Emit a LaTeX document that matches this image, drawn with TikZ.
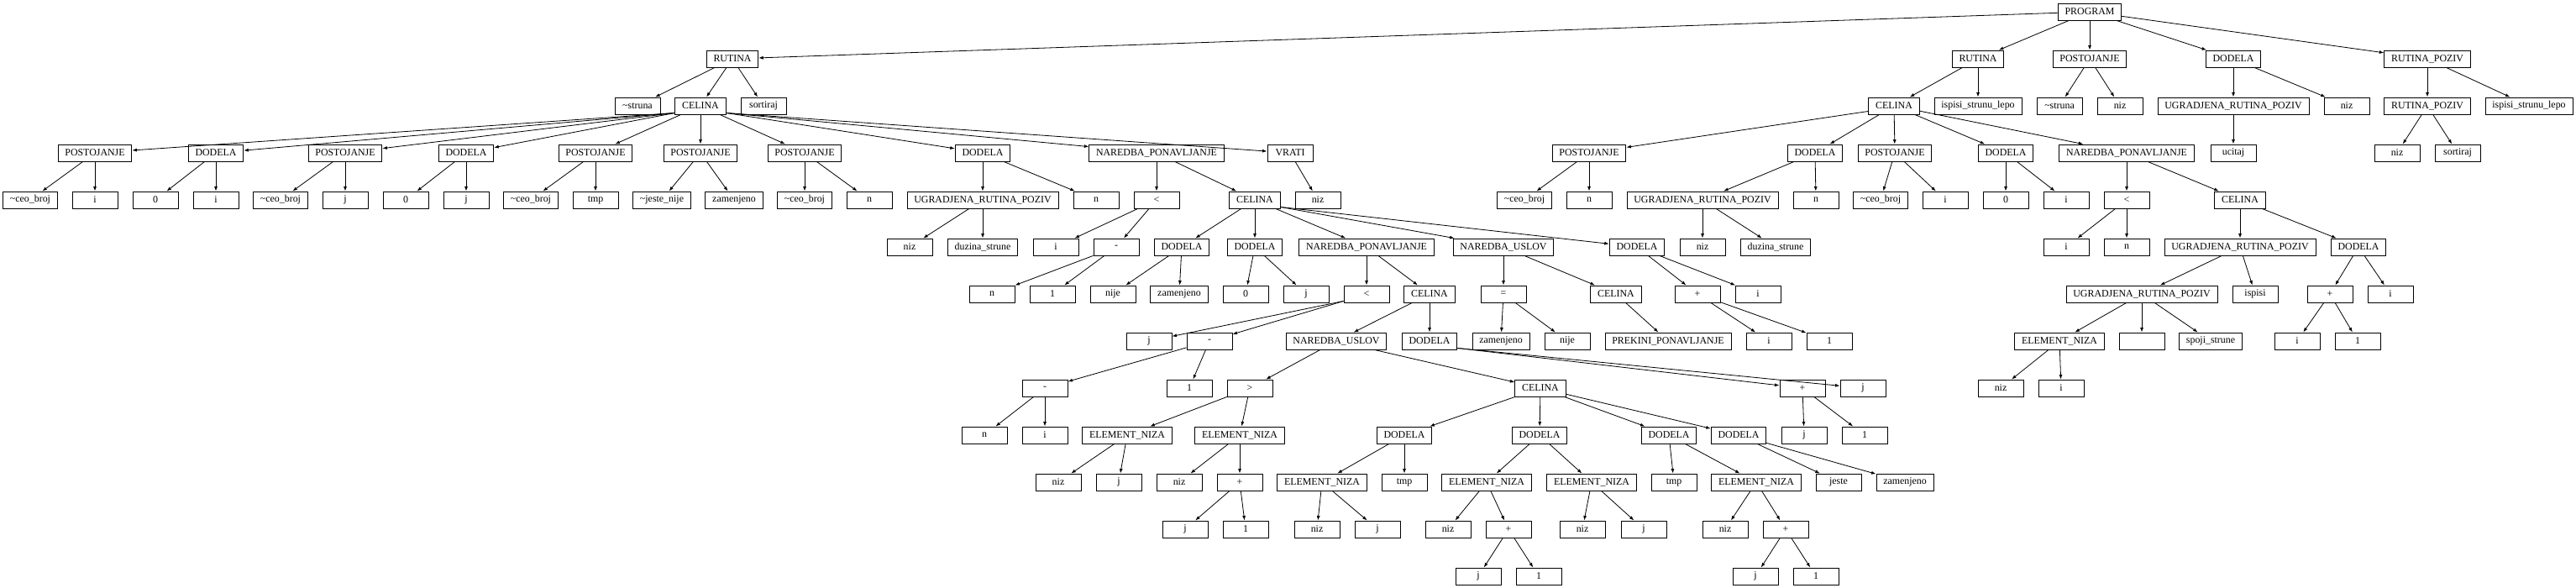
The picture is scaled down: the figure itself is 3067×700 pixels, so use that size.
\documentclass[tikz,border=0pt]{standalone}
\usepackage{fontspec}
\setmainfont{Liberation Serif}
\usepackage{tikz}
\usetikzlibrary{arrows.meta}

\begin{document}
\begin{tikzpicture}
[every node/.style={draw=black, line width=0.9pt, rectangle, minimum width=54pt, minimum height=20pt, inner xsep=8.3pt, inner ysep=0pt, font=\fontsize{11.9}{13}\selectfont},
 branch/.style={line width=0.8pt, ->, >={Latex[length=5.5pt,width=4pt]}, color=black}]
\useasboundingbox (0pt, 0pt) rectangle (3067pt, -700pt);
% level 0 and 1
\node (1) at (2488pt, -14pt) {PROGRAM};
\node (2) at (872pt, -70pt) {RUTINA};
\node (3) at (2355pt, -70pt) {RUTINA};
\node (4) at (2488pt, -70pt) {POSTOJANJE};
\node (5) at (2659pt, -70pt) {DODELA};
\node (6) at (2890pt, -70pt) {RUTINA\_POZIV};
% left routine
\node (7) at (759pt, -126pt) {\textasciitilde struna};
\node (8) at (834pt, -126pt) {CELINA};
\node (9) at (909pt, -126pt) {sortiraj};
\node (10) at (113pt, -182pt) {POSTOJANJE};
\node (11) at (257pt, -182pt) {DODELA};
\node (12) at (411pt, -182pt) {POSTOJANJE};
\node (13) at (555pt, -182pt) {DODELA};
\node (14) at (709pt, -182pt) {POSTOJANJE};
\node (15) at (834pt, -182pt) {POSTOJANJE};
\node (16) at (958pt, -182pt) {POSTOJANJE};
\node (17) at (1170pt, -182pt) {DODELA};
\node (18) at (1377pt, -182pt) {NAREDBA\_PONAVLJANJE};
\node (19) at (1536pt, -182pt) {VRATI};
\node (20) at (36pt, -238pt) {\textasciitilde ceo\_broj};
\node (21) at (113pt, -238pt) {i};
\node (22) at (185pt, -238pt) {0};
\node (23) at (257pt, -238pt) {i};
\node (24) at (334pt, -238pt) {\textasciitilde ceo\_broj};
\node (25) at (411pt, -238pt) {j};
\node (26) at (483pt, -238pt) {0};
\node (27) at (555pt, -238pt) {j};
\node (28) at (632pt, -238pt) {\textasciitilde ceo\_broj};
\node (29) at (709pt, -238pt) {tmp};
\node (30) at (788pt, -238pt) {\textasciitilde jeste\_nije};
\node (31) at (874pt, -238pt) {zamenjeno};
\node (32) at (958pt, -238pt) {\textasciitilde ceo\_broj};
\node (33) at (1035pt, -238pt) {n};
\node (34) at (1170pt, -238pt) {UGRADJENA\_RUTINA\_POZIV};
\node (35) at (1305pt, -238pt) {n};
\node (36) at (1377pt, -238pt) {\textless};
\node (37) at (1494pt, -238pt) {CELINA};
\node (38) at (1569pt, -238pt) {niz};
\node (39) at (1083pt, -294pt) {niz};
\node (40) at (1170pt, -294pt) {duzina\_strune};
\node (41) at (1257pt, -294pt) {i};
\node (42) at (1329pt, -294pt) {-};
\node (43) at (1407pt, -294pt) {DODELA};
\node (44) at (1494pt, -294pt) {DODELA};
\node (45) at (1627pt, -294pt) {NAREDBA\_PONAVLJANJE};
\node (46) at (1790pt, -294pt) {NAREDBA\_USLOV};
\node (47) at (1949pt, -294pt) {DODELA};
\node (48) at (1181pt, -350pt) {n};
\node (49) at (1253pt, -350pt) {1};
\node (50) at (1325pt, -350pt) {nije};
\node (51) at (1404pt, -350pt) {zamenjeno};
\node (52) at (1483pt, -350pt) {0};
\node (53) at (1555pt, -350pt) {j};
\node (54) at (1627pt, -350pt) {\textless};
\node (55) at (1702pt, -350pt) {CELINA};
\node (56) at (1790pt, -350pt) {=};
\node (57) at (1924pt, -350pt) {CELINA};
\node (58) at (2021pt, -350pt) {+};
\node (59) at (2093pt, -350pt) {i};
\node (60) at (1368pt, -406pt) {j};
\node (61) at (1440pt, -406pt) {-};
\node (62) at (1591pt, -406pt) {NAREDBA\_USLOV};
\node (63) at (1702pt, -406pt) {DODELA};
\node (64) at (1787pt, -406pt) {zamenjeno};
\node (65) at (1866pt, -406pt) {nije};
\node (66) at (1986pt, -406pt) {PREKINI\_PONAVLJANJE};
\node (67) at (2106pt, -406pt) {i};
\node (68) at (2178pt, -406pt) {1};
\node (69) at (1244pt, -462pt) {-};
\node (70) at (1416pt, -462pt) {1};
\node (71) at (1488pt, -462pt) {\textgreater};
\node (72) at (1834pt, -462pt) {CELINA};
\node (73) at (2146pt, -462pt) {+};
\node (74) at (2218pt, -462pt) {j};
\node (75) at (1172pt, -518pt) {n};
\node (76) at (1244pt, -518pt) {i};
\node (77) at (1342pt, -518pt) {ELEMENT\_NIZA};
\node (78) at (1476pt, -518pt) {ELEMENT\_NIZA};
\node (79) at (1672pt, -518pt) {DODELA};
\node (80) at (1833pt, -518pt) {DODELA};
\node (81) at (1987pt, -518pt) {DODELA};
\node (82) at (2070pt, -518pt) {DODELA};
\node (83) at (2148pt, -518pt) {j};
\node (84) at (2220pt, -518pt) {1};
\node (85) at (1260pt, -574pt) {niz};
\node (86) at (1332pt, -574pt) {j};
\node (87) at (1404pt, -574pt) {niz};
\node (88) at (1476pt, -574pt) {+};
\node (89) at (1574pt, -574pt) {ELEMENT\_NIZA};
\node (90) at (1672pt, -574pt) {tmp};
\node (91) at (1770pt, -574pt) {ELEMENT\_NIZA};
\node (92) at (1895pt, -574pt) {ELEMENT\_NIZA};
\node (93) at (1993pt, -574pt) {tmp};
\node (94) at (2091pt, -574pt) {ELEMENT\_NIZA};
\node (95) at (2189pt, -574pt) {jeste};
\node (96) at (2268pt, -574pt) {zamenjeno};
\node (97) at (1411pt, -630pt) {j};
\node (98) at (1483pt, -630pt) {1};
\node (99) at (1568pt, -630pt) {niz};
\node (100) at (1640pt, -630pt) {j};
\node (101) at (1724pt, -630pt) {niz};
\node (102) at (1796pt, -630pt) {+};
\node (103) at (1884pt, -630pt) {niz};
\node (104) at (1957pt, -630pt) {j};
\node (105) at (2054pt, -630pt) {niz};
\node (106) at (2126pt, -630pt) {+};
\node (107) at (1760pt, -686pt) {j};
\node (108) at (1832pt, -686pt) {1};
\node (109) at (2090pt, -686pt) {j};
\node (110) at (2162pt, -686pt) {1};
% right routine
\node (111) at (2255pt, -126pt) {CELINA};
\node (112) at (2355pt, -126pt) {ispisi\_strunu\_lepo};
\node (113) at (1892pt, -182pt) {POSTOJANJE};
\node (114) at (2161pt, -182pt) {DODELA};
\node (115) at (2256pt, -182pt) {POSTOJANJE};
\node (116) at (2388pt, -182pt) {DODELA};
\node (117) at (2532pt, -182pt) {NAREDBA\_PONAVLJANJE};
\node (118) at (1815pt, -238pt) {\textasciitilde ceo\_broj};
\node (119) at (1892pt, -238pt) {n};
\node (120) at (2027pt, -238pt) {UGRADJENA\_RUTINA\_POZIV};
\node (121) at (2162pt, -238pt) {n};
\node (122) at (2239pt, -238pt) {\textasciitilde ceo\_broj};
\node (123) at (2316pt, -238pt) {i};
\node (124) at (2388pt, -238pt) {0};
\node (125) at (2460pt, -238pt) {i};
\node (126) at (2532pt, -238pt) {\textless};
\node (127) at (2667pt, -238pt) {CELINA};
\node (128) at (2027pt, -294pt) {niz};
\node (129) at (2114pt, -294pt) {duzina\_strune};
\node (130) at (2460pt, -294pt) {i};
\node (131) at (2532pt, -294pt) {n};
\node (132) at (2667pt, -294pt) {UGRADJENA\_RUTINA\_POZIV};
\node (133) at (2808pt, -294pt) {DODELA};
\node (134) at (2550pt, -350pt) {UGRADJENA\_RUTINA\_POZIV};
\node (135) at (2685pt, -350pt) {ispisi};
\node (136) at (2774pt, -350pt) {+};
\node (137) at (2846pt, -350pt) {i};
\node (138) at (2452pt, -406pt) {ELEMENT\_NIZA};
\node (139) at (2550pt, -406pt) {};
\node (140) at (2632pt, -406pt) {spoji\_strune};
\node (141) at (2735pt, -406pt) {i};
\node (142) at (2807pt, -406pt) {1};
\node (143) at (2382pt, -462pt) {niz};
\node (144) at (2454pt, -462pt) {i};
% top level statements
\node (145) at (2452pt, -126pt) {\textasciitilde struna};
\node (146) at (2524pt, -126pt) {niz};
\node (147) at (2659pt, -126pt) {UGRADJENA\_RUTINA\_POZIV};
\node (148) at (2794pt, -126pt) {niz};
\node (149) at (2659pt, -182pt) {ucitaj};
\node (150) at (2890pt, -126pt) {RUTINA\_POZIV};
\node (151) at (3011pt, -126pt) {ispisi\_strunu\_lepo};
\node (152) at (2854pt, -182pt) {niz};
\node (153) at (2926pt, -182pt) {sortiraj};
% edges
\foreach \a/\b in {1/2, 1/3, 1/4, 1/5, 1/6,
  2/7, 2/8, 2/9,
  8/14, 8/15, 8/16,
  10/20, 10/21, 11/22, 11/23, 12/24, 12/25, 13/26, 13/27, 14/28, 14/29,
  15/30, 15/31, 16/32, 16/33, 17/34, 17/35, 18/36, 18/37, 19/38,
  34/39, 34/40, 36/41, 36/42, 37/43, 37/44, 37/45,
  42/48, 42/49, 43/50, 43/51, 44/52, 44/53, 45/54, 45/55, 46/56, 46/57, 47/58, 47/59,
  55/62, 55/63, 56/64, 56/65, 57/66, 58/67, 58/68,
  61/69, 61/70, 62/71, 62/72,
  69/75, 69/76, 71/77, 71/78, 72/79, 72/80, 72/81, 72/82, 73/83, 73/84,
  77/85, 77/86, 78/87, 78/88, 79/89, 79/90, 80/91, 80/92, 81/93, 81/94, 82/95, 82/96,
  88/97, 88/98, 89/99, 89/100, 91/101, 91/102, 92/103, 92/104, 94/105, 94/106,
  102/107, 102/108, 106/109, 106/110,
  3/111, 3/112,
  111/114, 111/115, 111/116, 111/117,
  113/118, 113/119, 114/120, 114/121, 115/122, 115/123, 116/124, 116/125, 117/126, 117/127,
  120/128, 120/129, 126/130, 126/131, 127/132, 127/133,
  132/134, 132/135, 133/136, 133/137,
  134/138, 134/139, 134/140, 136/141, 136/142, 138/143, 138/144,
  4/145, 4/146, 5/147, 5/148, 147/149, 6/150, 6/151, 150/152, 150/153}
  \draw [branch] (\a) to (\b);
% long shallow edges leave from the corners
\foreach \b in {10, 11, 12, 13}
  \draw [branch] ([yshift=2pt]8.south west) to (\b);
\foreach \b in {17, 18, 19}
  \draw [branch] ([yshift=2pt]8.south east) to (\b);
\foreach \b in {46, 47}
  \draw [branch] ([yshift=2pt]37.south east) to (\b);
\foreach \b in {60, 61}
  \draw [branch] ([yshift=2pt]54.south west) to (\b);
\foreach \b in {73, 74}
  \draw [branch] ([yshift=2pt]63.south east) to (\b);
\draw [branch] ([yshift=4pt]111.south west) to (113);
\end{tikzpicture}
\end{document}
